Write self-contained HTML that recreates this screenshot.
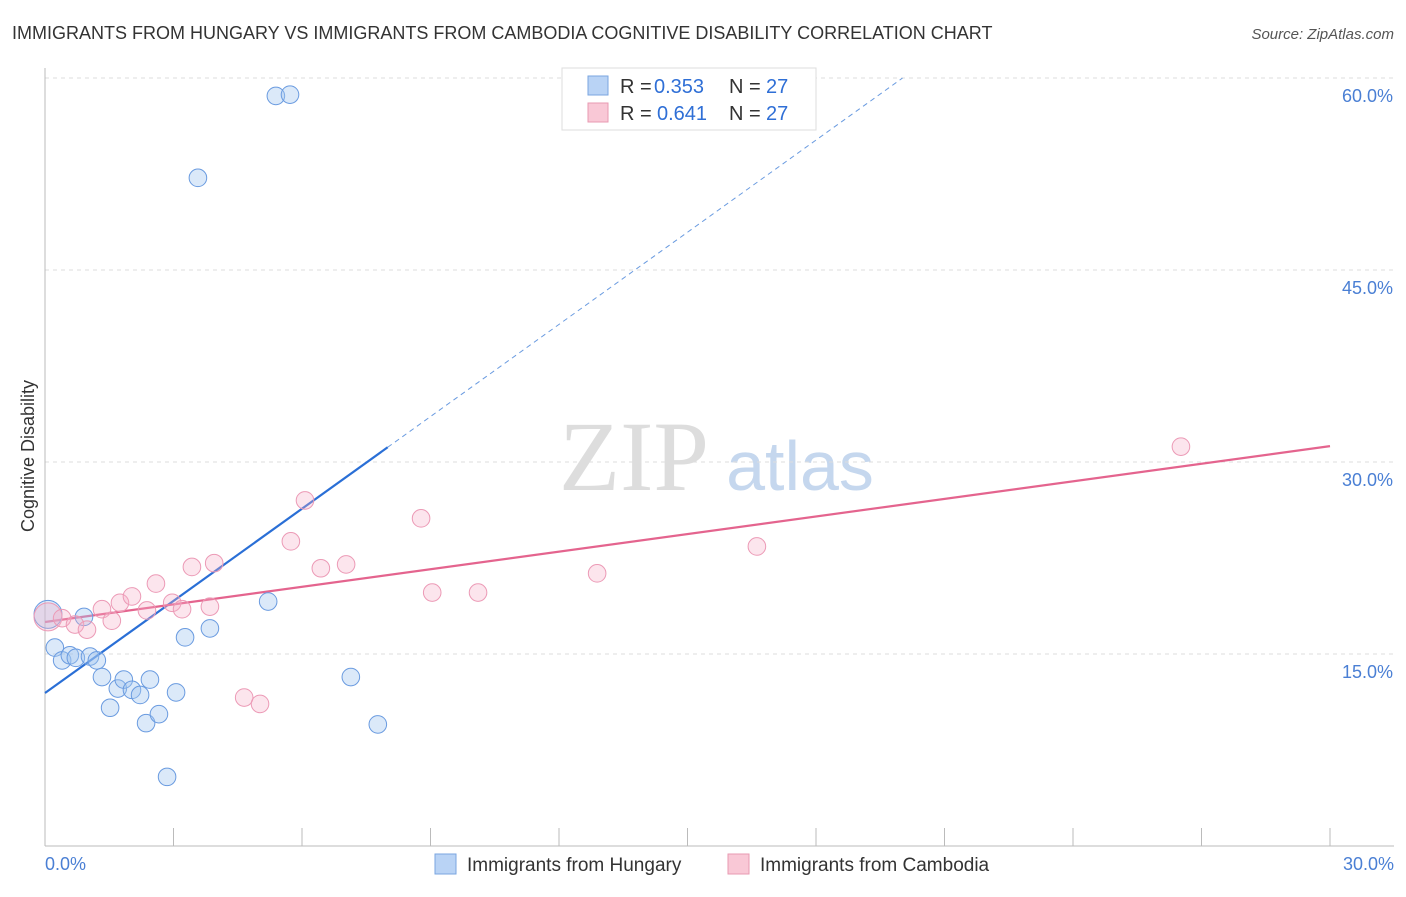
<!DOCTYPE html>
<html><head><meta charset="utf-8"><style>
body{margin:0;background:#fff;font-family:"Liberation Sans",sans-serif}
</style></head><body>
<svg id="chart" width="1406" height="892" font-family="Liberation Sans, sans-serif">
<text x="12" y="39" font-size="18" fill="#333">IMMIGRANTS FROM HUNGARY VS IMMIGRANTS FROM CAMBODIA COGNITIVE DISABILITY CORRELATION CHART</text>
<text x="1394" y="39" font-size="15" fill="#555" font-style="italic" text-anchor="end">Source: ZipAtlas.com</text>
<text x="634" y="490" font-size="100" fill="#ddd" style="font-family:'Liberation Serif',serif" text-anchor="middle">ZIP</text>
<text x="800" y="490" font-size="70" fill="#c5d7ee" text-anchor="middle">atlas</text>
<g id="grid"></g>
<line x1="45" y1="68" x2="45" y2="846" stroke="#bbb"/>
<line x1="45" y1="846" x2="1394" y2="846" stroke="#bbb"/>
<text transform="translate(34,456) rotate(-90)" font-size="18" fill="#333" text-anchor="middle">Cognitive Disability</text>
<text x="45" y="870" font-size="18" fill="#4a7fd4">0.0%</text>
<text x="1394" y="870" font-size="18" fill="#4a7fd4" text-anchor="end">30.0%</text>
<g id="lines"></g>
<g id="pts"></g>
<g>
<rect x="562" y="68" width="254" height="62" fill="#fff" stroke="#ddd"/>
<rect x="588" y="76" width="20" height="19" fill="#b9d3f5" stroke="#7aa6e0"/>
<rect x="588" y="103" width="20" height="19" fill="#f9c8d6" stroke="#e89ab2"/>
<text x="620" y="93" font-size="20" fill="#333">R =</text>
<text x="654" y="93" font-size="20" fill="#2f6fd6">0.353</text>
<text x="729" y="93" font-size="20" fill="#333">N =</text>
<text x="766" y="93" font-size="20" fill="#2f6fd6">27</text>
<text x="620" y="120" font-size="20" fill="#333">R =</text>
<text x="657" y="120" font-size="20" fill="#2f6fd6">0.641</text>
<text x="729" y="120" font-size="20" fill="#333">N =</text>
<text x="766" y="120" font-size="20" fill="#2f6fd6">27</text>
</g>
<g>
<rect x="435" y="854" width="21" height="20" fill="#b9d3f5" stroke="#7aa6e0"/>
<text x="467" y="871" font-size="19" fill="#333">Immigrants from Hungary</text>
<rect x="728" y="854" width="21" height="20" fill="#f9c8d6" stroke="#e89ab2"/>
<text x="760" y="871" font-size="19" fill="#333">Immigrants from Cambodia</text>
</g>
</svg>
<script>
const yTicks=[15,30,45,60];
const hungaryX=[0.07,0.23,0.40,0.58,0.72,0.91,1.05,1.21,1.33,1.52,1.70,1.84,2.03,2.22,2.36,2.45,2.66,2.85,3.06,3.27,3.57,3.85,5.21,5.39,5.72,7.14,7.77];
const hungaryY=[18.1,15.5,14.5,14.9,14.7,17.9,14.8,14.5,13.2,10.8,12.3,13.0,12.2,11.8,9.6,13.0,10.3,5.4,12.0,16.3,52.2,17.0,19.1,58.6,58.7,13.2,9.5];
const cambodiaX=[0.07,0.40,0.70,0.98,1.33,1.56,1.75,2.03,2.38,2.59,2.97,3.20,3.43,3.85,3.95,4.65,5.02,5.74,6.07,6.44,7.03,8.78,9.04,10.11,12.89,16.62,26.52];
const cambodiaY=[17.9,17.8,17.3,16.9,18.5,17.6,19.0,19.5,18.4,20.5,19.0,18.5,21.8,18.7,22.1,11.6,11.1,23.8,27.0,21.7,22.0,25.6,19.8,19.8,21.3,23.4,31.2];
const hungaryTrend=[11.95,2.40];
const cambodiaTrend=[17.5,0.458];
const sx=v=>45+v*1285/30, sy=v=>846-v*192/15;
const NS='http://www.w3.org/2000/svg';
function mk(tag,attrs,parent){const e=document.createElementNS(NS,tag);for(const k in attrs)e.setAttribute(k,attrs[k]);document.getElementById(parent).appendChild(e);return e;}
yTicks.forEach(t=>{
 const l=mk('line',{x1:45,x2:1394,y1:sy(t),y2:sy(t),stroke:'#ddd','stroke-dasharray':'4,4'},'grid');
 
 
 const tx=mk('text',{x:1393,y:sy(t)+24,'font-size':18,fill:'#4a7fd4','text-anchor':'end'},'grid');
 tx.textContent=t.toFixed(1)+'%';
 
 
});
for(let i=1;i<=10;i++){const x=45+i*128.5;
 const t=mk('line',{x1:x,x2:x,y1:828,y2:846,stroke:'#bbb'},'grid');
 
 }
const hy=x=>hungaryTrend[0]+hungaryTrend[1]*x, cy=x=>cambodiaTrend[0]+cambodiaTrend[1]*x;
let l1=mk('line',{x1:sx(0),y1:sy(hy(0)),x2:sx(8),y2:sy(hy(8)),stroke:'#2a6fd6','stroke-width':2.2},'lines');


let xe=(60-hungaryTrend[0])/hungaryTrend[1];
let l2=mk('line',{x1:sx(8),y1:sy(hy(8)),x2:sx(xe),y2:sy(hy(xe)),stroke:'#6a9be0','stroke-width':1,'stroke-dasharray':'5,4'},'lines');


let l3=mk('line',{x1:sx(0),y1:sy(cy(0)),x2:sx(30),y2:sy(cy(30)),stroke:'#e4648e','stroke-width':2.2},'lines');


function pts(xs,ys,fill,stroke,name){xs.forEach((x,i)=>{
 const c=mk('circle',{cx:sx(x),cy:sy(ys[i]),r:i==0?14:8.8,fill:fill,stroke:stroke,'stroke-width':1},'pts');
 
 });}
pts(hungaryX,hungaryY,'rgba(160,196,240,0.38)','#6a9be0','hungary-point');
pts(cambodiaX,cambodiaY,'rgba(245,175,198,0.32)','#ec9ab6','cambodia-point');
</script>
</body></html>
